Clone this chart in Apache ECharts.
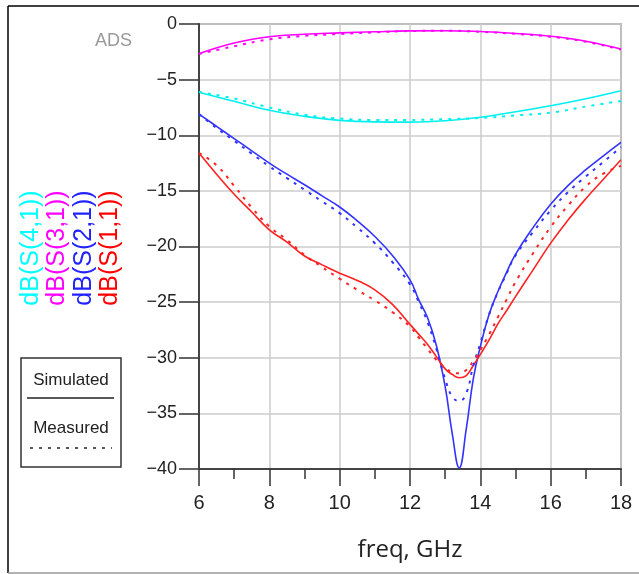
<!DOCTYPE html>
<html><head><meta charset="utf-8">
<script src="https://cdn.jsdelivr.net/npm/echarts@6/dist/echarts.min.js"></script>
<style>html,body{margin:0;padding:0;background:#fff}#c{width:639px;height:574px}</style>
</head><body><div id="c"></div>
<script>
// ---- data ----
const freqCoarse = [6,7,8,9,10,11,12,13,14,15,16,17,18];
const s41Sim  = [-6.14,-6.95,-7.76,-8.3,-8.66,-8.8,-8.82,-8.7,-8.38,-7.88,-7.35,-6.72,-6.0];
const s41Meas = [-6.1,-6.7,-7.5,-8.15,-8.5,-8.62,-8.62,-8.55,-8.45,-8.22,-7.97,-7.42,-6.92];
const s31Sim  = [-2.67,-1.71,-1.15,-0.92,-0.8,-0.7,-0.62,-0.6,-0.68,-0.85,-1.1,-1.55,-2.25];
const s31Meas = [-2.7,-2.0,-1.38,-1.07,-0.9,-0.75,-0.63,-0.6,-0.7,-0.88,-1.15,-1.6,-2.3];

const freqFine = [6,6.5,7,7.5,8,8.5,9,9.5,10,10.5,11,11.5,12,12.25,12.5,12.75,13,13.2,13.4,13.6,13.8,14,14.25,14.5,14.75,15,15.5,16,16.5,17,17.5,18];
const s21Sim  = [-8.1,-9.2,-10.3,-11.4,-12.5,-13.5,-14.45,-15.45,-16.45,-17.7,-19.1,-20.8,-23.0,-24.8,-26.4,-28.9,-32.6,-36.8,-39.9,-36.4,-31.9,-29.0,-26.1,-24.05,-22.3,-20.7,-18.3,-16.2,-14.5,-13.1,-11.85,-10.65];
const s21Meas = [-8.1,-9.35,-10.5,-11.65,-12.8,-13.85,-14.9,-15.95,-17.0,-18.3,-19.7,-21.4,-23.4,-25.0,-26.8,-29.2,-31.9,-33.5,-33.9,-33.2,-30.7,-28.7,-26.1,-24.1,-22.4,-20.8,-18.7,-16.75,-15.1,-13.7,-12.4,-11.05];
const s11Sim  = [-11.6,-13.5,-15.3,-16.9,-18.5,-19.6,-20.85,-21.65,-22.4,-23.05,-23.9,-25.2,-27.0,-27.9,-28.8,-29.9,-31.0,-31.5,-31.8,-31.6,-30.7,-29.7,-28.4,-26.95,-25.75,-24.5,-22.1,-19.7,-17.6,-15.7,-13.95,-12.2];
const s11Meas = [-11.6,-12.7,-14.55,-16.5,-18.2,-19.4,-20.75,-21.85,-22.9,-23.9,-24.85,-25.9,-27.2,-28.2,-29.2,-30.2,-30.9,-31.3,-31.4,-31.1,-30.3,-29.3,-27.9,-26.35,-24.75,-23.2,-20.6,-18.25,-16.3,-14.6,-13.45,-12.75];

const legendNames = ['dB(S(4,1))','dB(S(3,1))','dB(S(2,1))','dB(S(1,1))'];
const xTickLabels = [6,8,10,12,14,16,18];
const yTickLabels = [0,-5,-10,-15,-20,-25,-30,-35,-40];

// ---- chart ----
const FONT = '"Liberation Sans", Arial, sans-serif';
const colors = {s41:'#00f0f0', s31:'#ff00ff', s21:'#3333ff', s11:'#ff2222'};
const pair = (xs, ys) => xs.map((x, i) => [x, ys[i]]);
function mk(name, xs, ys, color, dashed) {
  return {
    name, type: 'line', data: pair(xs, ys), showSymbol: false, symbol: 'none',
    smooth: 0.45,
    lineStyle: {color, width: dashed ? 2 : 1.6, type: dashed ? [3, 6] : 'solid'},
    z: dashed ? 3 : 2, silent: true
  };
}
const chart = echarts.init(document.getElementById('c'), null, {renderer: 'canvas'});
const option = {
  animation: false,
  grid: {left: 199, top: 24, width: 422, height: 445, show: true, borderColor: '#777', borderWidth: 1.5},
  xAxis: {
    type: 'value', min: 6, max: 18, interval: 2,
    axisLine: {show: true, onZero: false, lineStyle: {color: '#444', width: 2}},
    axisTick: {show: true, inside: false, length: 17, lineStyle: {color: '#333', width: 1.5}},
    minorTick: {show: true, splitNumber: 2, length: 10, lineStyle: {color: '#333', width: 1.5}},
    splitLine: {show: true, lineStyle: {color: '#cccccc', width: 1.5}},
    axisLabel: {fontFamily: FONT, fontSize: 20, color: '#222', margin: 24,
      formatter: v => xTickLabels.includes(v) ? String(v) : ''}
  },
  yAxis: {
    type: 'value', min: -40, max: 0, interval: 5,
    axisLine: {show: true, onZero: false, lineStyle: {color: '#444', width: 2}},
    axisTick: {show: true, length: 20, lineStyle: {color: '#333', width: 1.5}},
    splitLine: {show: true, lineStyle: {color: '#cccccc', width: 1.5}},
    axisLabel: {fontFamily: FONT, fontSize: 18, color: '#222', margin: 22,
      formatter: v => yTickLabels.includes(v) ? (v < 0 ? '\u2212' + Math.abs(v) : String(v)) : ''}
  },
  series: [
    mk('S41 sim', freqCoarse, s41Sim, colors.s41, false),
    mk('S41 meas', freqCoarse, s41Meas, colors.s41, true),
    mk('S31 sim', freqCoarse, s31Sim, colors.s31, false),
    mk('S31 meas', freqCoarse, s31Meas, colors.s31, true),
    mk('S21 sim', freqFine, s21Sim, colors.s21, false),
    mk('S21 meas', freqFine, s21Meas, colors.s21, true),
    mk('S11 sim', freqFine, s11Sim, colors.s11, false),
    mk('S11 meas', freqFine, s11Meas, colors.s11, true)
  ],
  graphic: [
    {type: 'line', z: 100, shape: {x1: 8, y1: 6, x2: 639, y2: 6}, style: {stroke: '#000', lineWidth: 1.5}},
    {type: 'line', z: 100, shape: {x1: 8, y1: 6, x2: 8, y2: 573}, style: {stroke: '#000', lineWidth: 1.5}},
    {type: 'line', z: 100, shape: {x1: 8, y1: 573, x2: 639, y2: 573}, style: {stroke: '#999', lineWidth: 1.5}},
    {type: 'text', z: 100, x: 132, y: 41, style: {text: 'ADS', fill: '#999', font: '18px ' + FONT, align: 'right', verticalAlign: 'middle'}},
    {type: 'text', z: 100, x: 31, y: 248, rotation: Math.PI / 2, style: {text: legendNames[0], fill: '#00ffff', font: '25px ' + FONT, align: 'center', verticalAlign: 'middle'}},
    {type: 'text', z: 100, x: 57, y: 248, rotation: Math.PI / 2, style: {text: legendNames[1], fill: '#ff00ff', font: '25px ' + FONT, align: 'center', verticalAlign: 'middle'}},
    {type: 'text', z: 100, x: 84, y: 248, rotation: Math.PI / 2, style: {text: legendNames[2], fill: '#2222ff', font: '25px ' + FONT, align: 'center', verticalAlign: 'middle'}},
    {type: 'text', z: 100, x: 110, y: 248, rotation: Math.PI / 2, style: {text: legendNames[3], fill: '#ff0000', font: '25px ' + FONT, align: 'center', verticalAlign: 'middle'}},
    {type: 'rect', z: 100, shape: {x: 21, y: 358, width: 100, height: 109}, style: {fill: 'none', stroke: '#333', lineWidth: 1.5}},
    {type: 'text', z: 100, x: 71, y: 380, style: {text: 'Simulated', fill: '#222', font: '17px ' + FONT, align: 'center', verticalAlign: 'middle'}},
    {type: 'line', z: 100, shape: {x1: 27, y1: 398, x2: 114, y2: 398}, style: {stroke: '#222', lineWidth: 1.5}},
    {type: 'text', z: 100, x: 71, y: 428, style: {text: 'Measured', fill: '#222', font: '17px ' + FONT, align: 'center', verticalAlign: 'middle'}},
    {type: 'line', z: 100, shape: {x1: 30, y1: 448, x2: 112, y2: 448}, style: {stroke: '#222', lineWidth: 1.5, lineDash: [3, 6]}},
    {type: 'text', z: 100, x: 410, y: 550, style: {text: 'freq, GHz', fill: '#222', font: '24px "Open Sans", ' + FONT, align: 'center', verticalAlign: 'middle'}}
  ]
};
chart.setOption(option);
</script>
</body></html>
